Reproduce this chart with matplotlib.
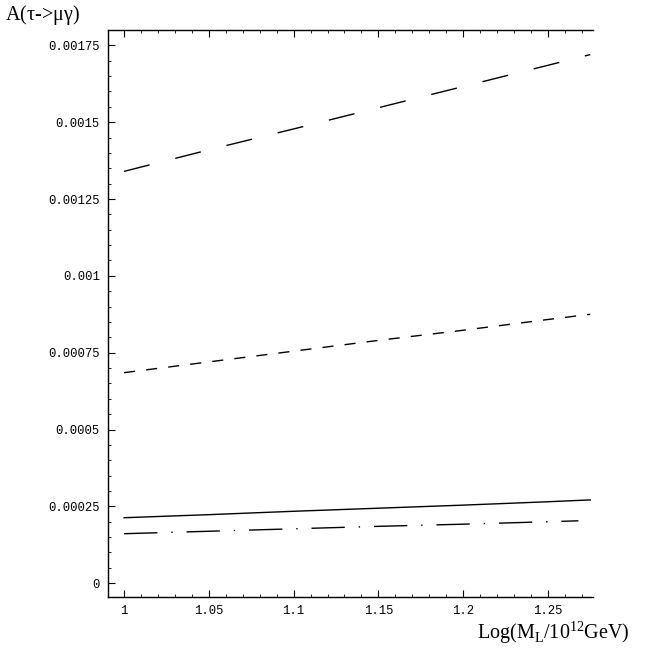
import matplotlib
matplotlib.use('Agg')
import matplotlib.pyplot as plt
from matplotlib.ticker import MultipleLocator

# x = Log(M_L / 10^12 GeV)
x_vals = [1.0, 1.05, 1.1, 1.15, 1.2, 1.25, 1.275]
x_dashdot = [1.0, 1.05, 1.1, 1.15, 1.2, 1.25, 1.268]

long_dash = [0.00134, 0.00141, 0.001478, 0.001547, 0.001616, 0.001685, 0.00172]
short_dash = [0.000685, 0.00072, 0.000755, 0.00079, 0.000823, 0.000858, 0.000875]
solid = [0.000213, 0.000223, 0.000234, 0.000244, 0.000254, 0.000265, 0.000271]
dash_dot = [0.000161, 0.000169, 0.000177, 0.000185, 0.000192, 0.0002, 0.000203]

y_ticks = [0, 0.00025, 0.0005, 0.00075, 0.001, 0.00125, 0.0015, 0.00175]
y_tick_labels = ['0', '0.00025', '0.0005', '0.00075', '0.001', '0.00125', '0.0015', '0.00175']
x_ticks = [1, 1.05, 1.1, 1.15, 1.2, 1.25]
x_tick_labels = ['1', '1.05', '1.1', '1.15', '1.2', '1.25']

fig = plt.figure(figsize=(6.52, 6.56), dpi=100)
ax = fig.add_axes([0.1656, 0.0899, 0.7439, 0.8644])

ax.plot(x_vals, long_dash, color='black', lw=1.0, dashes=(19, 19))
ax.plot(x_vals, short_dash, color='black', lw=1.0, dashes=(8, 8))
ax.plot(x_vals, solid, color='black', lw=1.0)
ax.plot(x_dashdot, dash_dot, color='black', lw=1.0, dashes=(24, 10, 1, 10))

ax.set_xlim(0.9905, 1.2766)
ax.set_ylim(-0.000045, 0.0018)

ax.set_xticks(x_ticks)
ax.set_xticklabels(x_tick_labels)
ax.set_yticks(y_ticks)
ax.set_yticklabels(y_tick_labels)
ax.xaxis.set_minor_locator(MultipleLocator(0.01))
ax.yaxis.set_minor_locator(MultipleLocator(0.00005))

ax.spines['right'].set_visible(False)
for s in ['left', 'bottom', 'top']:
    ax.spines[s].set_linewidth(1.0)

ax.tick_params(which='both', direction='in', top=True, right=False, labelsize=8.8)
ax.tick_params(which='major', length=5, pad=6)
ax.tick_params(which='minor', length=2.5)
for lab in ax.get_xticklabels() + ax.get_yticklabels():
    lab.set_family('Liberation Mono')

fig.text(0.008, 0.977, r'A($\mathregular{\tau}$->$\mathregular{\mu\gamma}$)', fontsize=14.5,
         family='Liberation Serif', ha='left', va='center')
fig.text(0.966, 0.036, r'Log(M$_{\mathregular{L}}$/10$^{\mathregular{12}}$GeV)', fontsize=14.5,
         family='Liberation Serif', ha='right', va='center')

fig.savefig('out.png', dpi=100)
